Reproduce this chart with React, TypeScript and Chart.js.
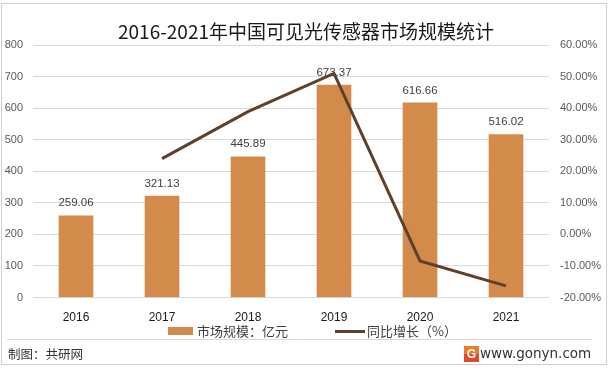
import React, { useEffect, useRef } from "react";
import { Chart, registerables } from "chart.js";

Chart.register(...registerables);

const categories = ["2016", "2017", "2018", "2019", "2020", "2021"];
const marketSize = [259.06, 321.13, 445.89, 673.37, 616.66, 516.02];
const growthRate = [null, 24.0, 38.9, 51.0, -8.4, -16.3];
const leftTicks = [0, 100, 200, 300, 400, 500, 600, 700, 800];
const rightTicks = [-20, -10, 0, 10, 20, 30, 40, 50, 60];
const titleText = "2016-2021年中国可见光传感器市场规模统计";
const barLegend = "市场规模：亿元";
const lineLegend = "同比增长（%）";
const sourceText = "制图：共研网";
const siteText = "www.gonyn.com";

const BAR_COLOR = "#D38B4C";
const LINE_COLOR = "#5E402B";
const GRID_COLOR = "#D9D9D9";
const CJK = '"Noto Sans CJK SC", "Noto Sans", sans-serif';
const LAT = '"Liberation Sans", Arial, sans-serif';

export default function App() {
  const ref = useRef<HTMLCanvasElement | null>(null);

  useEffect(() => {
    const canvas = ref.current;
    if (!canvas) return;

    const decorPlugin = {
      id: "decor",
      beforeDraw(chart: any) {
        const ctx = chart.ctx;
        ctx.save();
        ctx.fillStyle = "#ffffff";
        ctx.fillRect(0, 0, chart.width, chart.height);
        ctx.restore();
      },
      afterDatasetDraw(chart: any, args: any) {
        if (args.index !== 0) return;
        const ctx = chart.ctx;
        const meta = chart.getDatasetMeta(0);
        ctx.save();
        ctx.font = `11.5px ${LAT}`;
        ctx.fillStyle = "#404040";
        ctx.textAlign = "center";
        ctx.textBaseline = "middle";
        meta.data.forEach((bar: any, i: number) => {
          ctx.fillText(marketSize[i].toFixed(2), bar.x, bar.y - 12.5);
        });
        ctx.restore();
      },
      afterDraw(chart: any) {
        const ctx = chart.ctx;
        ctx.save();
        // border
        ctx.strokeStyle = "#D0D0D0";
        ctx.lineWidth = 1;
        ctx.strokeRect(1.5, 3.5, 605, 361);
        // title
        ctx.fillStyle = "#1A1A1A";
        ctx.font = `19px ${CJK}`;
        ctx.textAlign = "center";
        ctx.textBaseline = "middle";
        ctx.fillText(titleText, 306, 32);
        // legend
        ctx.fillStyle = BAR_COLOR;
        ctx.fillRect(168, 327, 25, 8);
        ctx.fillStyle = "#404040";
        ctx.font = `13px ${CJK}`;
        ctx.textAlign = "left";
        ctx.fillText(barLegend, 197, 331.5);
        ctx.strokeStyle = LINE_COLOR;
        ctx.lineWidth = 3;
        ctx.beginPath();
        ctx.moveTo(335, 331.5);
        ctx.lineTo(365, 331.5);
        ctx.stroke();
        ctx.fillText(lineLegend, 367, 331.5);
        // separator
        ctx.strokeStyle = GRID_COLOR;
        ctx.lineWidth = 1;
        ctx.beginPath();
        ctx.moveTo(7, 339.5);
        ctx.lineTo(592, 339.5);
        ctx.stroke();
        // footer
        ctx.fillStyle = "#333333";
        ctx.font = `12.5px ${CJK}`;
        ctx.fillText(sourceText, 8, 354);
        ctx.font = `13.5px "DejaVu Sans", sans-serif`;
        ctx.fillText(siteText, 480, 354);
        // logo
        ctx.fillStyle = "#F07A2B";
        ctx.fillRect(464, 346, 15, 16);
        ctx.fillStyle = "#E04A2A";
        ctx.fillRect(464, 354, 15, 8);
        ctx.fillStyle = "#ffffff";
        ctx.font = `bold 12px ${LAT}`;
        ctx.textAlign = "center";
        ctx.fillText("G", 471.5, 354.5);
        ctx.restore();
      },
    };

    const chart = new Chart(canvas, {
      type: "bar",
      data: {
        labels: categories,
        datasets: [
          {
            type: "bar",
            label: barLegend,
            data: marketSize,
            backgroundColor: BAR_COLOR,
            barThickness: 34,
            yAxisID: "y",
            order: 2,
          },
          {
            type: "line",
            label: lineLegend,
            data: growthRate as any,
            borderColor: LINE_COLOR,
            borderWidth: 3,
            pointRadius: 0,
            tension: 0,
            spanGaps: false,
            yAxisID: "y1",
            order: 1,
          },
        ],
      },
      options: {
        responsive: false,
        animation: false,
        events: [],
        layout: { padding: { top: 45, bottom: 0, left: 0, right: 0 } },
        plugins: {
          legend: { display: false },
          title: { display: false },
          tooltip: { enabled: false },
        },
        scales: {
          x: {
            grid: { display: false },
            border: { display: false },
            ticks: {
              padding: 5,
              color: "#1A1A1A",
              font: { family: LAT, size: 12 },
            },
            afterFit(scale: any) {
              scale.height = 371 - 297.5;
            },
          },
          y: {
            position: "left",
            min: leftTicks[0],
            max: leftTicks[leftTicks.length - 1],
            grid: { color: GRID_COLOR, drawTicks: false },
            border: { display: false },
            ticks: {
              stepSize: leftTicks[1] - leftTicks[0],
              padding: 10,
              color: "#595959",
              font: { family: LAT, size: 11 },
            },
            afterFit(scale: any) {
              scale.width = 33;
            },
          },
          y1: {
            position: "right",
            min: rightTicks[0],
            max: rightTicks[rightTicks.length - 1],
            grid: { display: false, drawTicks: false },
            border: { display: false },
            ticks: {
              stepSize: rightTicks[1] - rightTicks[0],
              padding: 11,
              color: "#595959",
              font: { family: LAT, size: 11 },
              callback: (v: any) => `${Number(v).toFixed(2)}%`,
            },
            afterFit(scale: any) {
              scale.width = 612 - 549;
            },
          },
        },
      },
      plugins: [decorPlugin],
    });

    return () => chart.destroy();
  }, []);

  return (
    <div style={{ position: "fixed", left: 0, top: 0, width: 612, height: 371 }}>
      <canvas ref={ref} width={612} height={371} style={{ display: "block" }} />
    </div>
  );
}
